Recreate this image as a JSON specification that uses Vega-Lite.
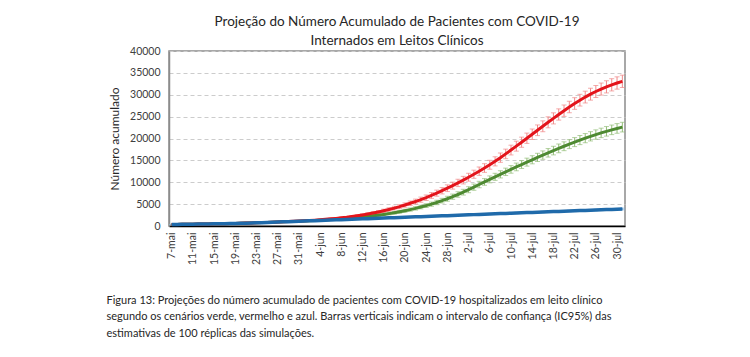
{
  "$schema": "https://vega.github.io/schema/vega-lite/v6.json",
  "width": 456,
  "height": 175,
  "autosize": {"type": "none"},
  "padding": {"left": 169, "top": 51, "right": 125, "bottom": 131},
  "background": "white",
  "config": {
    "font": "Lato",
    "view": {"stroke": "#8c8c8c", "strokeWidth": 1.5},
    "axisY": {
      "labelFontSize": 10.5, "labelColor": "#404040", "ticks": false, "labelPadding": 9,
      "domainColor": "#8c8c8c", "domainWidth": 1.5, "gridColor": "#cccccc", "gridDash": [4, 3],
      "titleFontSize": 12, "titleFontWeight": "normal", "titleColor": "#262626", "titlePadding": 8
    }
  },
  "title": {
    "text": ["Projeção do Número Acumulado de Pacientes com COVID-19", "Internados em Leitos Clínicos"],
    "fontSize": 13.5, "fontWeight": "normal", "color": "#262626", "lineHeight": 19, "offset": -1, "anchor": "middle"
  },
  "data": {"values": [
    {"d":"7-mai","r":350,"re":20,"g":350,"ge":20,"b":350,"be":20},
    {"d":"8-mai","r":365,"re":20,"g":365,"ge":20,"b":365,"be":20},
    {"d":"9-mai","r":380,"re":20,"g":380,"ge":20,"b":380,"be":20},
    {"d":"10-mai","r":395,"re":25,"g":395,"ge":25,"b":395,"be":20},
    {"d":"11-mai","r":410,"re":25,"g":410,"ge":25,"b":410,"be":20},
    {"d":"12-mai","r":430,"re":25,"g":430,"ge":25,"b":430,"be":25},
    {"d":"13-mai","r":450,"re":30,"g":450,"ge":30,"b":450,"be":25},
    {"d":"14-mai","r":470,"re":30,"g":470,"ge":30,"b":470,"be":25},
    {"d":"15-mai","r":490,"re":30,"g":490,"ge":30,"b":490,"be":25},
    {"d":"16-mai","r":515,"re":35,"g":515,"ge":35,"b":515,"be":30},
    {"d":"17-mai","r":540,"re":35,"g":540,"ge":35,"b":540,"be":30},
    {"d":"18-mai","r":565,"re":40,"g":565,"ge":40,"b":565,"be":30},
    {"d":"19-mai","r":595,"re":40,"g":595,"ge":40,"b":595,"be":30},
    {"d":"20-mai","r":625,"re":45,"g":625,"ge":45,"b":620,"be":35},
    {"d":"21-mai","r":660,"re":45,"g":660,"ge":45,"b":650,"be":35},
    {"d":"22-mai","r":700,"re":50,"g":700,"ge":50,"b":685,"be":35},
    {"d":"23-mai","r":740,"re":55,"g":740,"ge":55,"b":720,"be":40},
    {"d":"24-mai","r":780,"re":60,"g":780,"ge":60,"b":760,"be":40},
    {"d":"25-mai","r":825,"re":65,"g":820,"ge":60,"b":800,"be":40},
    {"d":"26-mai","r":870,"re":70,"g":865,"ge":65,"b":850,"be":45},
    {"d":"27-mai","r":920,"re":75,"g":910,"ge":70,"b":900,"be":45},
    {"d":"28-mai","r":970,"re":80,"g":955,"ge":75,"b":945,"be":45},
    {"d":"29-mai","r":1020,"re":85,"g":1000,"ge":80,"b":990,"be":50},
    {"d":"30-mai","r":1075,"re":90,"g":1050,"ge":85,"b":1040,"be":50},
    {"d":"31-mai","r":1130,"re":100,"g":1100,"ge":90,"b":1085,"be":50},
    {"d":"1-jun","r":1195,"re":105,"g":1150,"ge":95,"b":1130,"be":55},
    {"d":"2-jun","r":1265,"re":115,"g":1205,"ge":100,"b":1175,"be":55},
    {"d":"3-jun","r":1340,"re":125,"g":1265,"ge":110,"b":1220,"be":60},
    {"d":"4-jun","r":1430,"re":135,"g":1330,"ge":115,"b":1270,"be":60},
    {"d":"5-jun","r":1530,"re":145,"g":1400,"ge":125,"b":1315,"be":60},
    {"d":"6-jun","r":1630,"re":160,"g":1475,"ge":130,"b":1360,"be":65},
    {"d":"7-jun","r":1740,"re":175,"g":1555,"ge":140,"b":1405,"be":65},
    {"d":"8-jun","r":1860,"re":190,"g":1640,"ge":150,"b":1450,"be":70},
    {"d":"9-jun","r":1990,"re":205,"g":1730,"ge":160,"b":1500,"be":70},
    {"d":"10-jun","r":2155,"re":225,"g":1830,"ge":170,"b":1545,"be":75},
    {"d":"11-jun","r":2335,"re":245,"g":1940,"ge":180,"b":1590,"be":75},
    {"d":"12-jun","r":2530,"re":265,"g":2060,"ge":195,"b":1635,"be":80},
    {"d":"13-jun","r":2740,"re":290,"g":2190,"ge":210,"b":1680,"be":80},
    {"d":"14-jun","r":2965,"re":315,"g":2330,"ge":225,"b":1730,"be":85},
    {"d":"15-jun","r":3210,"re":340,"g":2480,"ge":240,"b":1775,"be":85},
    {"d":"16-jun","r":3480,"re":365,"g":2650,"ge":255,"b":1820,"be":90},
    {"d":"17-jun","r":3770,"re":395,"g":2830,"ge":275,"b":1865,"be":90},
    {"d":"18-jun","r":4080,"re":425,"g":3030,"ge":295,"b":1910,"be":95},
    {"d":"19-jun","r":4420,"re":455,"g":3250,"ge":315,"b":1960,"be":95},
    {"d":"20-jun","r":4790,"re":490,"g":3490,"ge":340,"b":2005,"be":100},
    {"d":"21-jun","r":5190,"re":520,"g":3750,"ge":365,"b":2050,"be":100},
    {"d":"22-jun","r":5590,"re":555,"g":4030,"ge":390,"b":2095,"be":105},
    {"d":"23-jun","r":6020,"re":590,"g":4330,"ge":415,"b":2140,"be":105},
    {"d":"24-jun","r":6480,"re":625,"g":4650,"ge":445,"b":2190,"be":110},
    {"d":"25-jun","r":6980,"re":660,"g":4990,"ge":475,"b":2235,"be":110},
    {"d":"26-jun","r":7510,"re":695,"g":5380,"ge":505,"b":2280,"be":115},
    {"d":"27-jun","r":8060,"re":730,"g":5790,"ge":535,"b":2325,"be":115},
    {"d":"28-jun","r":8640,"re":765,"g":6230,"ge":565,"b":2370,"be":120},
    {"d":"29-jun","r":9230,"re":800,"g":6700,"ge":595,"b":2420,"be":120},
    {"d":"30-jun","r":9850,"re":835,"g":7200,"ge":625,"b":2465,"be":125},
    {"d":"1-jul","r":10480,"re":870,"g":7730,"ge":655,"b":2510,"be":125},
    {"d":"2-jul","r":11150,"re":900,"g":8290,"ge":685,"b":2555,"be":130},
    {"d":"3-jul","r":11830,"re":930,"g":8880,"ge":710,"b":2600,"be":130},
    {"d":"4-jul","r":12530,"re":960,"g":9480,"ge":735,"b":2650,"be":135},
    {"d":"5-jul","r":13250,"re":990,"g":10070,"ge":760,"b":2695,"be":135},
    {"d":"6-jul","r":14000,"re":1020,"g":10660,"ge":785,"b":2740,"be":140},
    {"d":"7-jul","r":14780,"re":1045,"g":11240,"ge":805,"b":2785,"be":140},
    {"d":"8-jul","r":15620,"re":1070,"g":11810,"ge":825,"b":2830,"be":145},
    {"d":"9-jul","r":16480,"re":1095,"g":12380,"ge":845,"b":2880,"be":145},
    {"d":"10-jul","r":17360,"re":1120,"g":12940,"ge":865,"b":2925,"be":150},
    {"d":"11-jul","r":18250,"re":1140,"g":13500,"ge":880,"b":2970,"be":150},
    {"d":"12-jul","r":19150,"re":1160,"g":14050,"ge":895,"b":3015,"be":150},
    {"d":"13-jul","r":20060,"re":1180,"g":14600,"ge":910,"b":3060,"be":155},
    {"d":"14-jul","r":20970,"re":1200,"g":15140,"ge":925,"b":3105,"be":155},
    {"d":"15-jul","r":21880,"re":1220,"g":15680,"ge":940,"b":3150,"be":155},
    {"d":"16-jul","r":22790,"re":1240,"g":16210,"ge":955,"b":3200,"be":160},
    {"d":"17-jul","r":23700,"re":1255,"g":16730,"ge":970,"b":3245,"be":160},
    {"d":"18-jul","r":24600,"re":1270,"g":17240,"ge":985,"b":3290,"be":160},
    {"d":"19-jul","r":25490,"re":1285,"g":17740,"ge":1000,"b":3335,"be":165},
    {"d":"20-jul","r":26360,"re":1300,"g":18230,"ge":1010,"b":3380,"be":165},
    {"d":"21-jul","r":27200,"re":1315,"g":18710,"ge":1020,"b":3425,"be":165},
    {"d":"22-jul","r":28000,"re":1330,"g":19180,"ge":1030,"b":3470,"be":170},
    {"d":"23-jul","r":28760,"re":1340,"g":19640,"ge":1040,"b":3520,"be":170},
    {"d":"24-jul","r":29470,"re":1350,"g":20080,"ge":1050,"b":3565,"be":170},
    {"d":"25-jul","r":30130,"re":1360,"g":20500,"ge":1060,"b":3610,"be":175},
    {"d":"26-jul","r":30740,"re":1370,"g":20900,"ge":1070,"b":3655,"be":175},
    {"d":"27-jul","r":31300,"re":1380,"g":21280,"ge":1080,"b":3700,"be":175},
    {"d":"28-jul","r":31810,"re":1390,"g":21640,"ge":1090,"b":3750,"be":180},
    {"d":"29-jul","r":32270,"re":1400,"g":21980,"ge":1095,"b":3795,"be":180},
    {"d":"30-jul","r":32690,"re":1405,"g":22300,"ge":1100,"b":3840,"be":180},
    {"d":"31-jul","r":33070,"re":1410,"g":22600,"ge":1105,"b":3890,"be":185}
  ]},
  "encoding": {
    "x": {
      "field": "d", "type": "ordinal", "sort": null,
      "scale": {"type": "point", "padding": 0.5},
      "axis": {
        "values": ["7-mai","11-mai","15-mai","19-mai","23-mai","27-mai","31-mai","4-jun","8-jun","12-jun","16-jun","20-jun","24-jun","28-jun","2-jul","6-jul","10-jul","14-jul","18-jul","22-jul","26-jul","30-jul"],
        "labelAngle": -90, "labelAlign": "right", "labelBaseline": "middle",
        "labelFontSize": 10.5, "labelColor": "#404040", "labelPadding": 6, "labelOverlap": false,
        "ticks": false, "grid": false, "domainColor": "#000000", "domainWidth": 1.5,
        "title": [
          "Figura 13: Projeções do número acumulado de pacientes com COVID-19 hospitalizados em leito clínico",
          "segundo os cenários verde, vermelho e azul. Barras verticais indicam o intervalo de confiança (IC95%) das",
          "estimativas de 100 réplicas das simulações."
        ],
        "titleFontSize": 11, "titleFontWeight": "normal", "titleColor": "#262626",
        "titleAlign": "left", "titleAnchor": "start", "titleAngle": 0, "titleBaseline": "top",
        "titleX": -63, "titleY": 68, "titleLineHeight": 16.5
      }
    }
  },
  "layer": [
    {
      "mark": {"type": "errorbar", "color": "#f08888", "thickness": 1, "ticks": {"size": 5, "thickness": 1, "color": "#f08888"}},
      "encoding": {
        "y": {
          "field": "r", "type": "quantitative", "title": "Número acumulado",
          "scale": {"domain": [0, 40000]},
          "axis": {"values": [0, 5000, 10000, 15000, 20000, 25000, 30000, 35000, 40000], "format": "d", "labelOverlap": false}
        },
        "yError": {"field": "re"}
      }
    },
    {
      "mark": {"type": "errorbar", "color": "#93bd78", "thickness": 1, "ticks": {"size": 5, "thickness": 1, "color": "#93bd78"}},
      "encoding": {
        "y": {"field": "g", "type": "quantitative", "title": "Número acumulado",
          "axis": {"values": [0, 5000, 10000, 15000, 20000, 25000, 30000, 35000, 40000], "format": "d", "labelOverlap": false}},
        "yError": {"field": "ge"}
      }
    },
    {
      "mark": {"type": "errorbar", "color": "#7fb0dc", "thickness": 1, "ticks": {"size": 5, "thickness": 1, "color": "#7fb0dc"}},
      "encoding": {
        "y": {"field": "b", "type": "quantitative", "title": "Número acumulado",
          "axis": {"values": [0, 5000, 10000, 15000, 20000, 25000, 30000, 35000, 40000], "format": "d", "labelOverlap": false}},
        "yError": {"field": "be"}
      }
    },
    {
      "mark": {"type": "line", "color": "#4e8a32", "strokeWidth": 3},
      "encoding": {"y": {"field": "g", "type": "quantitative", "title": "Número acumulado",
        "axis": {"values": [0, 5000, 10000, 15000, 20000, 25000, 30000, 35000, 40000], "format": "d", "labelOverlap": false}}}
    },
    {
      "mark": {"type": "line", "color": "#e3141b", "strokeWidth": 3},
      "encoding": {"y": {"field": "r", "type": "quantitative", "title": "Número acumulado",
        "axis": {"values": [0, 5000, 10000, 15000, 20000, 25000, 30000, 35000, 40000], "format": "d", "labelOverlap": false}}}
    },
    {
      "mark": {"type": "line", "color": "#1f6aaa", "strokeWidth": 3.5},
      "encoding": {"y": {"field": "b", "type": "quantitative", "title": "Número acumulado",
        "axis": {"values": [0, 5000, 10000, 15000, 20000, 25000, 30000, 35000, 40000], "format": "d", "labelOverlap": false}}}
    }
  ]
}
